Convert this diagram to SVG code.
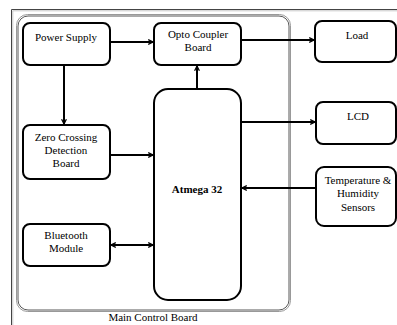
<svg xmlns="http://www.w3.org/2000/svg" width="397" height="325" viewBox="0 0 397 325" font-family="'Liberation Serif', 'Times New Roman', 'DejaVu Serif', serif">
<defs>
<style>
.box{fill:#fff;stroke:#000;stroke-width:2}
.lbl{font-family:'Liberation Serif','Times New Roman','DejaVu Serif',serif;font-size:11px;fill:#000;text-anchor:middle}
.con{stroke:#000;stroke-width:2;fill:none}
</style>
<marker id="ah" viewBox="0 0 10 10" refX="9" refY="5" markerWidth="6" markerHeight="6" orient="auto-start-reverse" markerUnits="userSpaceOnUse">
<path d="M1,1 L9,5 L1,9" fill="none" stroke="#000" stroke-width="2"/>
</marker>
</defs>
<rect width="397" height="325" fill="#fff"/>
<g id="frame">
<path d="M11.5,325 V9.5 H397" fill="none" stroke="#444" stroke-width="1"/>
<path d="M12.8,325 V10.8 H397" fill="none" stroke="#bbb" stroke-width="0.8"/>
</g>
<g id="main-control-board">
<rect x="16.5" y="14.5" width="274" height="297" rx="11" fill="none" stroke="#999" stroke-width="1"/>
<rect x="18" y="16" width="271" height="294" rx="10" fill="none" stroke="#444" stroke-width="0.9"/>
<text class="lbl" x="153" y="321" font-size="10">Main Control Board</text>
</g>
<g id="connectors">
<line class="con" x1="110" y1="42" x2="153" y2="42" marker-end="url(#ah)"/>
<line class="con" x1="64" y1="65" x2="64" y2="124" marker-end="url(#ah)"/>
<line class="con" x1="110" y1="155" x2="153" y2="155" marker-end="url(#ah)"/>
<line class="con" x1="197" y1="89" x2="197" y2="66" marker-end="url(#ah)"/>
<line class="con" x1="241" y1="40" x2="314" y2="40" marker-end="url(#ah)"/>
<line class="con" x1="241" y1="122" x2="315" y2="122" marker-end="url(#ah)"/>
<line class="con" x1="316" y1="188" x2="242" y2="188" marker-end="url(#ah)"/>
<line class="con" x1="111" y1="245" x2="153" y2="245" marker-start="url(#ah)" marker-end="url(#ah)"/>
</g>
<g id="power-supply">
<rect class="box" x="23" y="23" width="87" height="42" rx="7"/>
<text class="lbl" x="66" y="41">Power Supply</text>
</g>
<g id="opto-coupler">
<rect class="box" x="154" y="23" width="87" height="42" rx="7"/>
<text class="lbl" x="198" y="38">Opto Coupler</text>
<text class="lbl" x="198" y="51">Board</text>
</g>
<g id="zero-crossing">
<rect class="box" x="23" y="125" width="87" height="54" rx="7"/>
<text class="lbl" x="66" y="141">Zero Crossing</text>
<text class="lbl" x="66" y="154">Detection</text>
<text class="lbl" x="66" y="167">Board</text>
</g>
<g id="atmega">
<rect class="box" x="154" y="89" width="87" height="211" rx="14"/>
<text class="lbl" x="197" y="193" font-weight="bold">Atmega 32</text>
</g>
<g id="bluetooth">
<rect class="box" x="23" y="224" width="87" height="42" rx="7"/>
<text class="lbl" x="66" y="239">Bluetooth</text>
<text class="lbl" x="66" y="252">Module</text>
</g>
<g id="load">
<rect class="box" x="315" y="21" width="81" height="41" rx="7"/>
<text class="lbl" x="357" y="39">Load</text>
</g>
<g id="lcd">
<rect class="box" x="316" y="102" width="80" height="42" rx="7"/>
<text class="lbl" x="358" y="120">LCD</text>
</g>
<g id="temperature">
<rect class="box" x="316" y="167" width="80" height="59" rx="8"/>
<text class="lbl" x="358" y="184">Temperature &amp;</text>
<text class="lbl" x="358" y="197">Humidity</text>
<text class="lbl" x="358" y="211">Sensors</text>
</g>
</svg>
